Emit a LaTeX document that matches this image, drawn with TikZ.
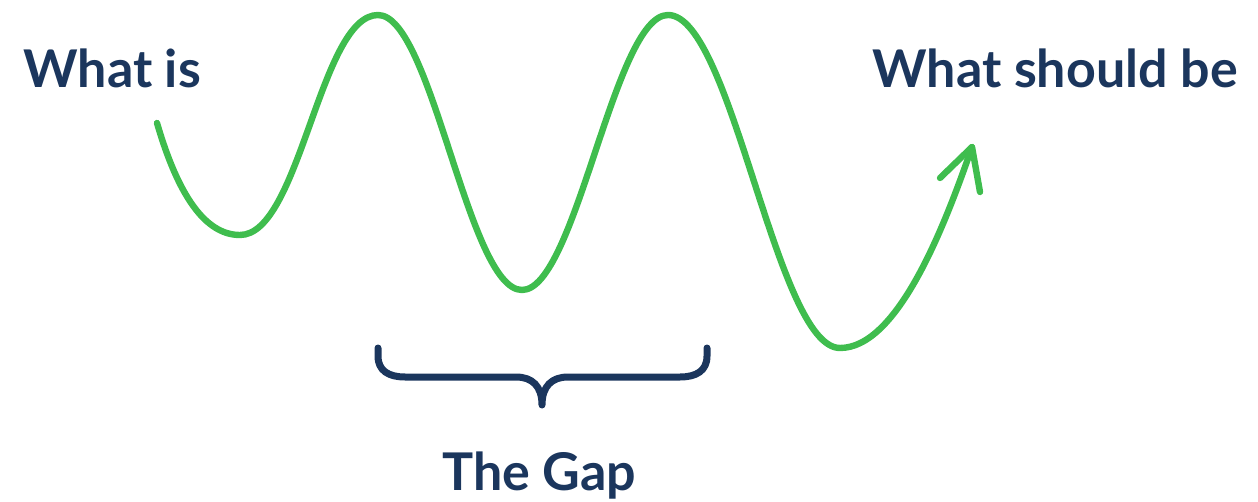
\documentclass[tikz,border=0pt]{standalone}
\usepackage{fontspec}
\setmainfont{Lato}
\definecolor{navy}{HTML}{1B365D}
\definecolor{wavegreen}{HTML}{3FBD4E}
\begin{document}
\begin{tikzpicture}[x=0.5pt,y=-0.5pt,
  lbl/.style={inner sep=0pt, text=navy, font=\bfseries\fontsize{26pt}{31pt}\selectfont},
  wave/.style={draw=wavegreen, line width=3.2pt, line cap=round, line join=round},
  bracestyle/.style={draw=navy, line width=3.5pt, line cap=round, line join=round}]
\useasboundingbox (0,0) rectangle (1258,502);
% labels
\node[lbl, anchor=base west] (whatis) at (23,88) {What is};
\node[lbl, anchor=base west] (should) at (872,88) {What should be};
\node[lbl, anchor=base west] (gap) at (442,490) {The Gap};
% wave
\coordinate (start) at (157,123);
\coordinate (t1) at (240,235);
\coordinate (p1) at (378,15);
\coordinate (t2) at (522,290);
\coordinate (p2) at (668,15);
\coordinate (t3) at (840,348);
\coordinate (tip) at (972,147);
\coordinate (barbL) at (940,178);
\coordinate (barbR) at (980,192);
\path[wave] (start) .. controls (178,195) and (205,235) .. (t1)
  .. controls (300,235) and (320,15) .. (p1)
  .. controls (432,15) and (468,290) .. (t2)
  .. controls (576,290) and (614,15) .. (p2)
  .. controls (732,15) and (776,348) .. (t3)
  .. controls (898,348) and (945,225) .. (tip);
\path[wave] (barbL) -- (tip) -- (barbR);
% brace
\coordinate (bl) at (378,348);
\coordinate (bm) at (542,405);
\coordinate (br) at (707,348);
\path[bracestyle] (bl) -- (378,356) .. controls (378,371) and (389,377) .. (405,377)
  -- (516,377) .. controls (532,377) and (542,386) .. (bm)
  .. controls (542,386) and (552,377) .. (568,377)
  -- (680,377) .. controls (696,377) and (707,371) .. (707,356) -- (br);
\end{tikzpicture}
\end{document}
